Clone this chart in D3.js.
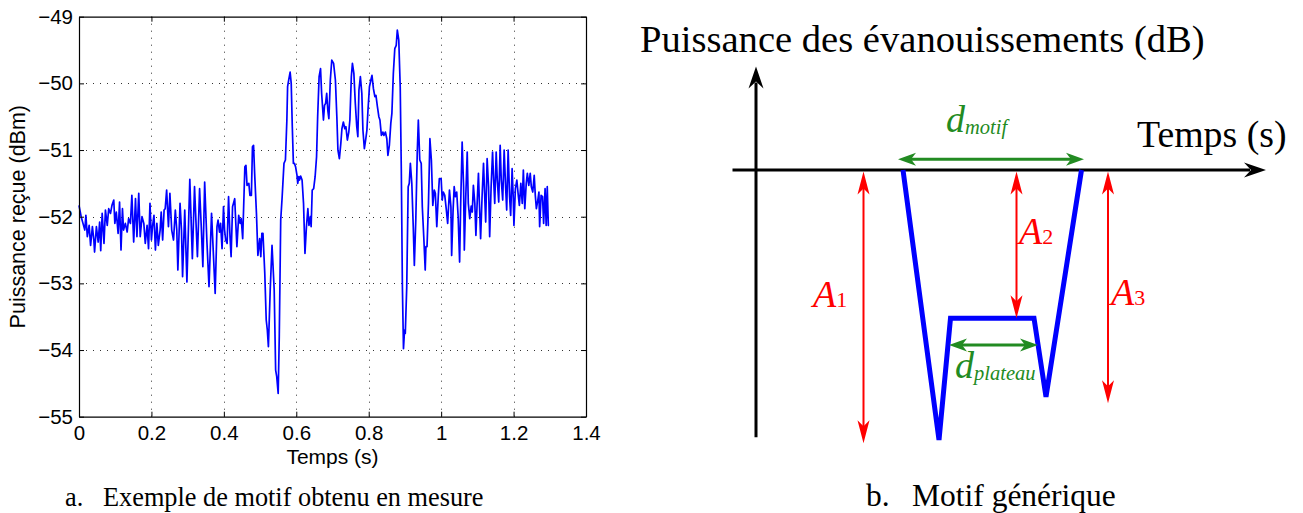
<!DOCTYPE html>
<html><head><meta charset="utf-8">
<script src="https://cdn.jsdelivr.net/npm/d3@7"></script>
<style>html,body{margin:0;padding:0;background:#fff;} svg{display:block;}</style>
</head><body>
<svg id="c" width="1303" height="513"></svg>
<script>
// ---------- (a) measured fading pattern ----------
const timeS = [
0.000,0.006,0.011,0.016,0.019,0.023,0.028,0.032,0.037,0.041,0.043,0.048,0.053,0.057,0.060,0.064,0.069,0.073,0.078,0.082,
0.087,0.091,0.096,0.099,0.103,0.108,0.112,0.116,0.120,0.123,0.128,0.133,0.137,0.142,0.146,0.151,0.156,0.160,0.165,0.169,
0.174,0.179,0.183,0.188,0.192,0.196,0.200,0.203,0.207,0.211,0.215,0.219,0.224,0.227,0.231,0.235,0.238,0.242,0.247,0.251,
0.256,0.261,0.266,0.270,0.273,0.279,0.283,0.286,0.292,0.298,0.306,0.313,0.319,0.327,0.333,
0.338,0.342,0.347,0.353,0.359,0.366,0.371,0.376,0.381,0.384,0.388,0.391,0.395,0.399,0.402,0.405,0.409,0.413,0.417,0.420,
0.424,0.430,0.433,0.436,0.441,0.445,0.448,0.452,0.458,0.461,0.464,0.469,0.472,0.476,0.479,0.482,0.485,0.490,0.494,0.499,
0.502,0.505,0.508,0.513,0.517,0.520,0.523,0.528,0.533,0.539,0.543,0.546,0.550,0.553,0.557,0.561,0.563,0.566,0.570,
0.574,0.576,0.579,0.583,0.586,0.589,0.592,0.595,0.598,0.602,0.604,0.607,0.609,0.612,0.616,0.620,0.624,0.628,0.632,0.635,
0.639,0.641,0.644,0.648,0.652,0.656,0.659,0.663,0.667,0.670,0.675,0.678,0.681,0.684,0.687,0.690,0.694,0.698,0.703,
0.708,0.712,0.715,0.719,0.723,0.726,0.730,0.734,0.737,0.741,0.745,0.748,0.752,0.755,0.759,0.763,0.767,0.770,0.773,0.777,
0.781,0.784,0.788,0.792,0.795,0.798,0.802,0.806,0.809,0.813,0.817,0.820,0.824,0.828,0.831,0.835,0.839,0.842,0.846,0.850,
0.853,0.857,0.861,0.864,0.868,0.872,0.876,0.879,0.883,0.887,0.890,0.893,0.896,0.899,0.901,0.905,0.909,0.912,0.915,0.919,
0.923,0.926,0.930,0.934,0.937,0.941,0.945,0.948,0.952,0.956,0.958,0.961,0.965,0.969,0.973,0.977,0.981,0.984,0.988,0.992,0.995,
1.000,1.003,1.006,1.010,1.014,1.018,1.023,1.027,1.029,1.033,1.036,1.039,1.043,1.047,1.051,1.054,1.058,1.062,1.064,1.068,
1.072,1.075,1.079,1.083,1.086,1.089,1.093,1.096,1.099,1.103,1.106,1.109,1.113,1.117,1.120,1.123,1.127,1.131,1.134,1.138,
1.142,1.145,1.148,1.152,1.155,1.159,1.163,1.166,1.170,1.174,1.178,1.181,1.185,1.189,1.192,1.196,1.199,1.201,1.205,1.209,
1.213,1.216,1.220,1.224,1.227,1.231,1.235,1.238,1.242,1.246,1.249,1.253,1.257,1.260,1.263,1.267,1.270,1.272,1.276,1.280,
1.283,1.287,1.290,1.293,1.296,1.298];
const powerDbm = [
-51.83,-52.00,-52.10,-52.20,-51.98,-52.30,-52.13,-52.43,-52.15,-52.35,-52.53,-52.15,-52.38,-52.08,-52.51,-51.95,-52.40,-51.90,-52.13,-51.88,
-51.95,-51.83,-51.75,-52.10,-51.93,-52.25,-51.78,-52.50,-51.88,-52.20,-52.10,-52.23,-52.03,-52.10,-51.68,-52.38,-51.73,-52.30,-51.65,-52.30,
-52.00,-52.10,-52.40,-52.13,-52.48,-51.80,-52.35,-52.15,-51.98,-52.50,-52.10,-52.43,-52.20,-51.93,-52.35,-51.90,-51.88,-51.60,-52.15,-51.65,
-52.20,-52.35,-51.90,-52.20,-52.80,-51.80,-52.20,-52.90,-51.90,-52.98,-51.44,-52.63,-51.55,-52.60,-51.58,
-52.20,-52.75,-51.48,-52.35,-53.05,-51.95,-52.55,-53.15,-52.15,-52.05,-52.23,-52.10,-52.48,-51.85,-52.20,-52.35,-52.40,-51.70,-52.30,-52.60,
-51.85,-51.73,-52.10,-52.45,-51.98,-52.10,-52.03,-52.33,-51.25,-51.23,-51.53,-51.50,-51.68,-51.68,-50.95,-50.93,-51.35,-51.95,-52.58,-52.33,
-52.60,-52.25,-52.25,-52.85,-53.55,-53.70,-53.95,-53.10,-52.43,-53.10,-54.30,-54.40,-54.65,-53.80,-52.05,-51.70,-51.50,-51.20,-51.15,
-50.55,-50.05,-49.95,-49.83,-50.00,-50.65,-51.20,-51.20,-51.25,-51.38,-51.50,-51.40,-51.45,-51.39,-51.45,-51.80,-52.55,-52.15,-51.88,-52.13,
-52.00,-52.15,-51.60,-51.58,-51.40,-51.10,-50.50,-49.90,-49.78,-50.15,-50.55,-50.33,-50.30,-50.15,-50.40,-50.53,-49.95,-49.65,-49.70,
-49.95,-50.50,-51.00,-51.13,-50.90,-50.68,-50.58,-50.68,-50.65,-50.85,-50.73,-50.55,-49.90,-49.70,-49.85,-50.30,-50.65,-50.80,-50.10,-49.90,
-50.15,-50.70,-50.98,-50.83,-50.70,-50.40,-50.05,-49.95,-49.88,-50.08,-50.20,-50.18,-50.35,-50.50,-50.55,-50.78,-50.73,-50.78,-50.73,-50.83,
-51.08,-50.93,-50.60,-50.45,-49.85,-49.48,-49.43,-49.20,-49.35,-50.05,-51.30,-53.05,-53.98,-53.70,-53.75,-53.05,-51.55,-51.50,-51.20,-51.50,
-52.15,-52.73,-52.05,-51.05,-50.55,-51.15,-51.20,-51.85,-52.30,-52.80,-52.45,-52.45,-51.80,-50.83,-51.15,-51.83,-51.60,-51.65,-52.15,-51.70,-51.43,
-51.43,-51.75,-51.63,-51.68,-51.88,-52.10,-51.60,-51.85,-52.58,-51.90,-51.55,-51.70,-51.63,-52.00,-52.68,-51.80,-50.88,-51.55,-52.50,-51.70,
-51.03,-51.80,-52.03,-51.84,-51.93,-51.53,-51.80,-52.28,-51.85,-51.35,-51.85,-52.33,-51.70,-51.20,-51.65,-52.08,-51.13,-51.55,-52.30,-51.55,
-51.03,-51.45,-51.80,-51.03,-51.45,-51.78,-50.93,-51.45,-51.75,-51.00,-51.55,-51.90,-51.00,-51.70,-51.98,-51.28,-51.70,-52.13,-51.58,-51.45,
-51.68,-51.83,-51.50,-51.80,-51.30,-51.88,-51.50,-51.35,-51.53,-51.35,-51.55,-51.63,-51.38,-51.68,-51.88,-51.75,-51.63,-52.15,-51.68,-51.70,
-52.10,-51.58,-52.13,-51.55,-52.13,-52.13];
const xTickValues = [0, 0.2, 0.4, 0.6, 0.8, 1, 1.2, 1.4];
const xTickLabels = ["0", "0.2", "0.4", "0.6", "0.8", "1", "1.2", "1.4"];
const yTickValues = [-55, -54, -53, -52, -51, -50, -49];
const yTickLabels = ["\u221255", "\u221254", "\u221253", "\u221252", "\u221251", "\u221250", "\u221249"];

// ---------- (b) generic pattern (schematic units) ----------
const motifTime  = [2.94, 3.66, 3.89, 5.56, 5.80, 6.51];
const motifLevel = [0, -10.0, -5.49, -5.49, -8.40, 0];
const ampNames = ["1", "2", "3"];
const ampTime  = [2.15, 5.21, 7.04];
const ampDepth = [-10.12, -5.49, -8.64];
const durNames = ["motif", "plateau"];
const durStart = [2.84, 3.86];
const durEnd   = [6.56, 5.64];
const durLevel = [0.40, -6.48];

const svg = d3.select("#c");
const SANS = "'Liberation Sans', Arial, Helvetica, sans-serif";
const SERIF = "'Liberation Serif', 'Times New Roman', serif";

// ===== left chart =====
const x = d3.scaleLinear().domain([0, 1.4]).range([79, 586]);
const y = d3.scaleLinear().domain([-55, -49]).range([416.7, 16.7]);
const L = svg.append("g");

// grid
L.append("g").selectAll("line").data(xTickValues.slice(1, -1)).join("line")
  .attr("x1", d => Math.round(x(d)) + 0.5).attr("x2", d => Math.round(x(d)) + 0.5)
  .attr("y1", y(-55)).attr("y2", y(-49))
  .attr("stroke", "#333").attr("stroke-width", 1).attr("stroke-dasharray", "1,6");
L.append("g").selectAll("line").data(yTickValues.slice(1, -1)).join("line")
  .attr("y1", d => Math.round(y(d)) + 0.5).attr("y2", d => Math.round(y(d)) + 0.5)
  .attr("x1", x(0)).attr("x2", x(1.4))
  .attr("stroke", "#333").attr("stroke-width", 1).attr("stroke-dasharray", "1,6");

// data line
const idx = d3.range(timeS.length);
L.append("path").datum(idx)
  .attr("d", d3.line().x(i => x(timeS[i])).y(i => y(powerDbm[i])))
  .attr("fill", "none").attr("stroke", "#0000ff").attr("stroke-width", 1.7)
  .attr("stroke-linejoin", "round");

// axes
function styleAxis(g) {
  g.selectAll(".domain").attr("stroke", "#000").attr("stroke-width", 1.2);
  g.selectAll(".tick line").attr("stroke", "#000");
  g.selectAll("text").attr("font-family", SANS).attr("font-size", 20.5).attr("fill", "#000");
}
L.append("g").attr("transform", `translate(0,${y(-55)})`)
  .call(d3.axisBottom(x).tickValues(xTickValues).tickFormat((d, i) => xTickLabels[i]).tickSize(-5).tickSizeOuter(0).tickPadding(9))
  .call(styleAxis);
L.append("g").attr("transform", `translate(0,${y(-49)})`)
  .call(d3.axisTop(x).tickValues(xTickValues).tickFormat("").tickSize(-5).tickSizeOuter(0))
  .call(styleAxis);
L.append("g").attr("transform", `translate(${x(0)},0)`)
  .call(d3.axisLeft(y).tickValues(yTickValues).tickFormat((d, i) => yTickLabels[i]).tickSize(-5).tickSizeOuter(0).tickPadding(6))
  .call(styleAxis);
L.append("g").attr("transform", `translate(${x(1.4)},0)`)
  .call(d3.axisRight(y).tickValues(yTickValues).tickFormat("").tickSize(-5).tickSizeOuter(0))
  .call(styleAxis);

L.append("text").attr("x", (x(0) + x(1.4)) / 2).attr("y", 463.5).attr("text-anchor", "middle")
  .attr("font-family", SANS).attr("font-size", 21).text("Temps (s)");
L.append("text").attr("transform", `translate(25,${(y(-55) + y(-49)) / 2}) rotate(-90)`)
  .attr("text-anchor", "middle").attr("font-family", SANS).attr("font-size", 21.5).text("Puissance reçue (dBm)");

L.append("text").attr("x", 65).attr("y", 506).attr("font-family", SERIF).attr("font-size", 26.3).text("a.");
L.append("text").attr("x", 103).attr("y", 506).attr("font-family", SERIF).attr("font-size", 26.3).text("Exemple de motif obtenu en mesure");

// ===== right diagram =====
const xs = d3.scaleLinear().domain([0, 10]).range([756, 1256]);
const ys = d3.scaleLinear().domain([0, -10]).range([170, 440]);
const R = svg.append("g");

function head(sel, tx, ty, angle, len, w, ind, color) {
  sel.append("path")
    .attr("d", `M0,0L${-len},${-w}L${-len + ind},0L${-len},${w}Z`)
    .attr("transform", `translate(${tx},${ty}) rotate(${angle})`)
    .attr("fill", color);
}

// axes
R.append("line").attr("x1", xs(0)).attr("x2", xs(0)).attr("y1", ys(-9.9)).attr("y2", ys(3.83) + 16)
  .attr("stroke", "#000").attr("stroke-width", 3);
head(R, xs(0), ys(3.83), -90, 22, 7.5, 7, "#000");
R.append("line").attr("x1", xs(-0.47)).attr("x2", xs(10.2) - 16).attr("y1", ys(0)).attr("y2", ys(0))
  .attr("stroke", "#000").attr("stroke-width", 3);
head(R, xs(10.2), ys(0), 0, 22, 7.5, 7, "#000");

// motif
R.append("path").datum(d3.range(motifTime.length))
  .attr("d", d3.line().x(i => xs(motifTime[i])).y(i => ys(motifLevel[i])))
  .attr("fill", "none").attr("stroke", "#0000ff").attr("stroke-width", 5).attr("stroke-linejoin", "miter");

// amplitudes (red)
const RED = "#ff0000";
ampTime.forEach((t, i) => {
  const top = ys(0) + 1.5, bot = ys(ampDepth[i]);
  R.append("line").attr("x1", xs(t)).attr("x2", xs(t)).attr("y1", top + 14).attr("y2", bot - 14)
    .attr("stroke", RED).attr("stroke-width", 2);
  head(R, xs(t), top, -90, 23, 6, 6, RED);
  head(R, xs(t), bot, 90, 23, 6, 6, RED);
});
const ampLabelPos = [[813, 307], [1019, 244], [1111, 305]];
ampNames.forEach((n, i) => {
  const t = R.append("text").attr("x", ampLabelPos[i][0]).attr("y", ampLabelPos[i][1])
    .attr("font-family", SERIF).attr("font-size", 38).attr("fill", RED).attr("font-style", "italic").text("A");
  t.append("tspan").attr("font-style", "normal").attr("font-size", 22).text(n);
});

// durations (green)
const GREEN = "#228b22";
durStart.forEach((s, i) => {
  const yy = ys(durLevel[i]), a = xs(s), b = xs(durEnd[i]);
  R.append("line").attr("x1", a + 12).attr("x2", b - 12).attr("y1", yy).attr("y2", yy)
    .attr("stroke", GREEN).attr("stroke-width", 3);
  head(R, a, yy, 180, 18, 6.5, 5, GREEN);
  head(R, b, yy, 0, 18, 6.5, 5, GREEN);
});
const durLabelPos = [[946, 132], [955, 378]];
durNames.forEach((n, i) => {
  const t = R.append("text").attr("x", durLabelPos[i][0]).attr("y", durLabelPos[i][1])
    .attr("font-family", SERIF).attr("font-size", 38).attr("fill", GREEN).attr("font-style", "italic").text("d");
  t.append("tspan").attr("font-size", 20.5).attr("dy", 2).text(n);
});

R.append("text").attr("x", 640).attr("y", 52).attr("font-family", SERIF).attr("font-size", 38.6)
  .text("Puissance des évanouissements (dB)");
R.append("text").attr("x", 1137).attr("y", 147).attr("font-family", SERIF).attr("font-size", 37.8)
  .text("Temps (s)");
R.append("text").attr("x", 866).attr("y", 506).attr("font-family", SERIF).attr("font-size", 31.5).text("b.");
R.append("text").attr("x", 912).attr("y", 506).attr("font-family", SERIF).attr("font-size", 31.5).text("Motif générique");
</script>
</body></html>
